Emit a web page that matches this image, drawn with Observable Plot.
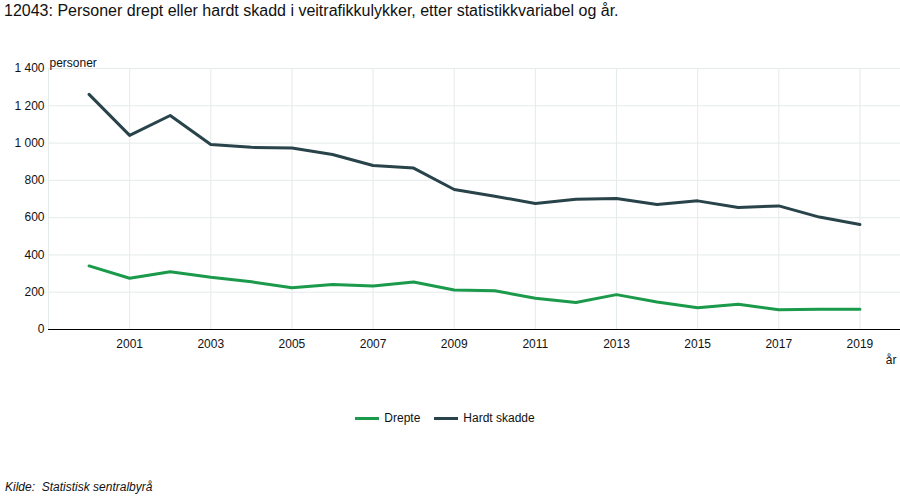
<!DOCTYPE html>
<html>
<head>
<meta charset="utf-8">
<script src="https://cdn.jsdelivr.net/npm/d3@7"></script>
<script src="https://cdn.jsdelivr.net/npm/@observablehq/plot@0.6"></script>
<style>
  html, body { margin: 0; padding: 0; background: #fff; }
  body { font-family: Arial, "Liberation Sans", sans-serif; color: #000; }
  #wrap { position: relative; width: 900px; height: 500px; overflow: hidden; }
  #title { position: absolute; left: 4px; top: 2px; font-size: 16px; color: #111; white-space: nowrap; }
  #chart { position: absolute; left: 0; top: 40px; }
  #legend { position: absolute; top: 411px; left: 0; width: 890px; display: flex; justify-content: center; gap: 14px; font-size: 12px; color: #111; }
  .item { display: flex; align-items: center; gap: 5px; }
  .sw { width: 24px; height: 3px; display: inline-block; }
  #caption { position: absolute; left: 5px; top: 480px; font-size: 12px; font-style: italic; color: #111; }
</style>
</head>
<body>
<div id="wrap">
  <div id="title">12043: Personer drept eller hardt skadd i veitrafikkulykker, etter statistikkvariabel og år.</div>
  <div id="chart"></div>
  <div id="legend"></div>
  <div id="caption">Kilde:&nbsp; Statistisk sentralbyrå</div>
</div>
<script>
const years = [2000,2001,2002,2003,2004,2005,2006,2007,2008,2009,2010,2011,2012,2013,2014,2015,2016,2017,2018,2019];
const drepte = [341,275,310,280,256,224,242,233,255,212,208,168,145,187,147,117,135,106,108,108];
const hardtSkadde = [1261,1041,1148,992,977,974,939,880,866,751,715,676,699,703,671,690,654,663,603,563];
const seriesNames = ["Drepte", "Hardt skadde"];
const seriesColors = ["#1a9a4a", "#28434a"];
const xTicks = [2001,2003,2005,2007,2009,2011,2013,2015,2017,2019];
const xGrid = [1999,2001,2003,2005,2007,2009,2011,2013,2015,2017,2019];
const yTicks = [0,200,400,600,800,1000,1200,1400];
const yLabel = "personer";
const xLabel = "år";

const rows = [];
years.forEach((y, i) => {
  rows.push({year: y, value: drepte[i], series: seriesNames[0]});
  rows.push({year: y, value: hardtSkadde[i], series: seriesNames[1]});
});

const fmt = d => d3.format(",")(d).replace(/,/g, " ");

const chart = Plot.plot({
  width: 900,
  height: 340,
  marginLeft: 48,
  marginRight: 0,
  marginTop: 28,
  marginBottom: 51,
  style: {fontFamily: "Arial, 'Liberation Sans', sans-serif", fontSize: "12px", color: "#111", background: "transparent"},
  x: {domain: [1999, 2020], ticks: xTicks, tickFormat: d => String(d), tickSize: 0, tickPadding: 10, label: null},
  y: {domain: [0, 1400], ticks: yTicks, tickFormat: fmt, tickSize: 0, tickPadding: 4, label: null},
  color: {domain: seriesNames, range: seriesColors},
  marks: [
    Plot.ruleY(yTicks, {stroke: "#e5eaea", strokeWidth: 1}),
    Plot.ruleX(xGrid, {y1: 0, y2: 1400, stroke: "#e5eaea", strokeWidth: 1}),
    Plot.ruleY([0], {stroke: "#000", strokeWidth: 1.2}),
    Plot.axisX({ticks: xTicks, tickSize: 0, tickPadding: 10, tickFormat: d => String(d), label: null}),
    Plot.axisY({ticks: yTicks, tickSize: 0, tickPadding: 4, tickFormat: fmt, label: null}),
    Plot.lineY(rows, {x: "year", y: "value", stroke: "series", strokeWidth: 3, strokeLinejoin: "round", strokeLinecap: "round"}),
    Plot.text([yLabel], {frameAnchor: "top-left", text: d => d, dy: -10, dx: 1, textAnchor: "start", fill: "#111"}),
    Plot.text([xLabel], {frameAnchor: "bottom-right", text: d => d, dy: 34, dx: -4, textAnchor: "end", fill: "#111"})
  ]
});
document.getElementById("chart").appendChild(chart);

const legend = document.getElementById("legend");
seriesNames.forEach((n, i) => {
  const it = document.createElement("div");
  it.className = "item";
  const sw = document.createElement("span");
  sw.className = "sw";
  sw.style.background = seriesColors[i];
  const t = document.createElement("span");
  t.textContent = n;
  it.appendChild(sw); it.appendChild(t);
  legend.appendChild(it);
});
</script>
</body>
</html>
